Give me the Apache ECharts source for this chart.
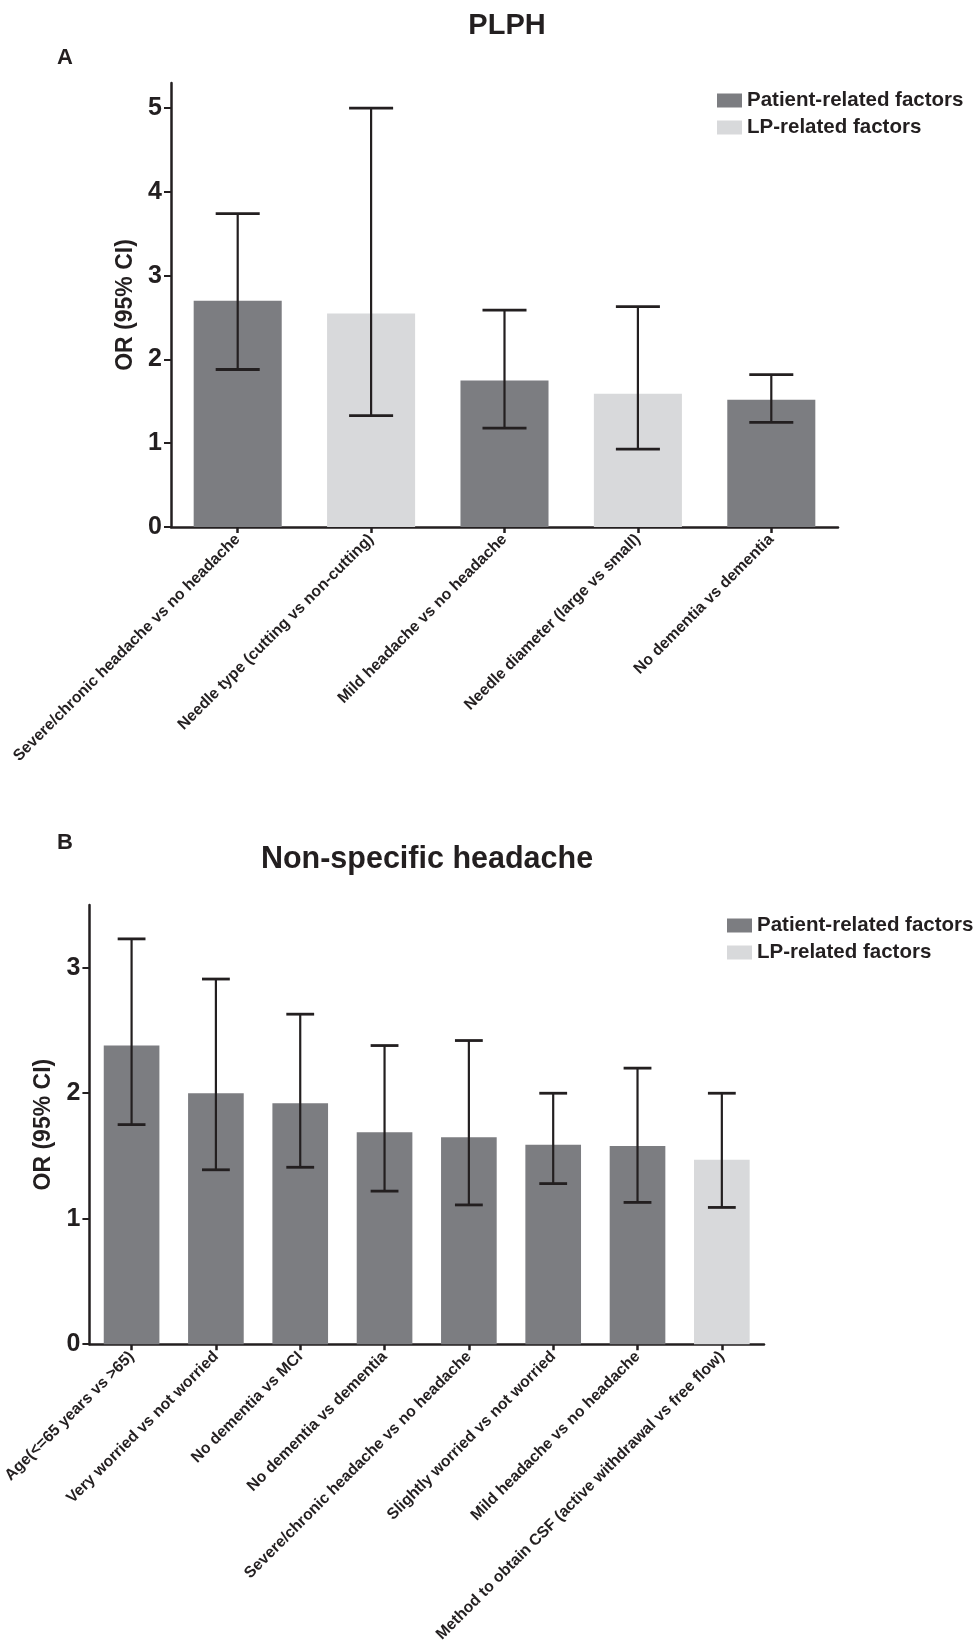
<!DOCTYPE html>
<html>
<head>
<meta charset="utf-8">
<script src="https://cdn.jsdelivr.net/npm/echarts@6/dist/echarts.min.js"></script>
<style>
html,body{margin:0;padding:0;background:#fff;}
#chart{width:973px;height:1645px;}
</style>
</head>
<body>
<div id="chart"></div>
<script>
// ---------- Data ----------
var seriesNames = ['Patient-related factors', 'LP-related factors'];

var topCategories = [
  'Severe/chronic headache vs no headache',
  'Needle type (cutting vs non-cutting)',
  'Mild headache vs no headache',
  'Needle diameter (large vs small)',
  'No dementia vs dementia'
];
var topType = ['P', 'L', 'P', 'L', 'P'];
var topOR   = [2.70, 2.55, 1.75, 1.59, 1.52];
var topLow  = [1.88, 1.33, 1.18, 0.93, 1.25];
var topHigh = [3.74, 5.00, 2.59, 2.63, 1.82];
var topTicks = [0, 1, 2, 3, 4, 5];

var botCategories = [
  'Age(<=65 years vs >65)',
  'Very worried vs not worried',
  'No dementia vs MCI',
  'No dementia vs dementia',
  'Severe/chronic headache vs no headache',
  'Slightly worried vs not worried',
  'Mild headache vs no headache',
  'Method to obtain CSF (active withdrawal vs free flow)'
];
var botType = ['P', 'P', 'P', 'P', 'P', 'P', 'P', 'L'];
var botOR   = [2.38, 2.00, 1.92, 1.69, 1.65, 1.59, 1.58, 1.47];
var botLow  = [1.75, 1.39, 1.41, 1.22, 1.11, 1.28, 1.13, 1.09];
var botHigh = [3.23, 2.91, 2.63, 2.38, 2.42, 2.00, 2.20, 2.00];
var botTicks = [0, 1, 2, 3];

// ---------- Style ----------
var DARK = '#7c7d81';
var LIGHT = '#d8d9db';
var INK = '#231f20';
var FONT = "'Liberation Sans', Arial, Helvetica, sans-serif";
var BAR_FRAC = 0.66;

function pick(values, types, t) {
  return values.map(function (v, i) { return types[i] === t ? v : null; });
}
function errData(low, high) {
  return low.map(function (l, i) { return [i, l, high[i]]; });
}
function renderErr(params, api) {
  var x = api.value(0);
  var lo = api.coord([x, api.value(1)]);
  var hi = api.coord([x, api.value(2)]);
  var bw = api.size([1, 0])[0] * BAR_FRAC;
  var half = bw / 4;
  var style = { stroke: INK, lineWidth: 2.2 };
  return {
    type: 'group',
    children: [
      { type: 'line', shape: { x1: hi[0], y1: hi[1], x2: lo[0], y2: lo[1] }, style: style },
      { type: 'line', shape: { x1: hi[0] - half, y1: hi[1], x2: hi[0] + half, y2: hi[1] }, style: { stroke: INK, lineWidth: 2.8 } },
      { type: 'line', shape: { x1: lo[0] - half, y1: lo[1], x2: lo[0] + half, y2: lo[1] }, style: { stroke: INK, lineWidth: 2.8 } }
    ]
  };
}

function xAxisCfg(gi, cats) {
  return {
    type: 'category', gridIndex: gi, data: cats,
    axisLine: { lineStyle: { color: INK, width: 2.5 } },
    axisTick: { show: true, alignWithLabel: true, length: 6, lineStyle: { color: INK, width: 2.5 } },
    axisLabel: {
      rotate: 45, interval: 0, margin: 10,
      color: '#231f20', fontFamily: FONT, fontWeight: 'bold', fontSize: 15.8
    }
  };
}
function yAxisCfg(gi, max, ticks, gap) {
  return {
    type: 'value', gridIndex: gi, min: 0, max: max, interval: 1,
    name: 'OR (95% CI)', nameLocation: 'middle', nameGap: gap,
    nameTextStyle: { color: INK, fontFamily: FONT, fontWeight: 'bold', fontSize: 23 },
    splitLine: { show: false },
    axisLine: { show: true, lineStyle: { color: INK, width: 2.5 } },
    axisTick: { show: true, length: 7, customValues: ticks, lineStyle: { color: INK, width: 2 } },
    axisLabel: {
      customValues: ticks, margin: 9,
      color: INK, fontFamily: FONT, fontWeight: 'bold', fontSize: 25
    }
  };
}

var chart = echarts.init(document.getElementById('chart'), null, { renderer: 'canvas' });

var option = {
  backgroundColor: '#fff',
  animation: false,
  title: [
    { text: 'PLPH', left: 502, top: 6, textAlign: 'center',
      textStyle: { fontFamily: FONT, fontWeight: 'bold', fontSize: 29, color: INK } },
    { text: 'A', left: 52, top: 42,
      textStyle: { fontFamily: FONT, fontWeight: 'bold', fontSize: 22, color: INK } },
    { text: 'B', left: 52, top: 827,
      textStyle: { fontFamily: FONT, fontWeight: 'bold', fontSize: 22, color: INK } },
    { text: 'Non-specific headache', left: 422, top: 839, textAlign: 'center',
      textStyle: { fontFamily: FONT, fontWeight: 'bold', fontSize: 30.5, color: INK } }
  ],
  legend: [
    { data: seriesNames, orient: 'vertical', left: 712, top: 85, itemWidth: 25, itemHeight: 14, itemGap: 6,
      icon: 'rect', textStyle: { fontFamily: FONT, fontWeight: 'bold', fontSize: 20.5, color: INK } },
    { data: seriesNames, orient: 'vertical', left: 722, top: 910, itemWidth: 25, itemHeight: 14, itemGap: 6,
      icon: 'rect', textStyle: { fontFamily: FONT, fontWeight: 'bold', fontSize: 20.5, color: INK } }
  ],
  grid: [
    { left: 171, top: 83, width: 667, height: 444 },
    { left: 88, top: 905, width: 676, height: 453 }
  ],
  xAxis: [ xAxisCfg(0, topCategories), xAxisCfg(1, botCategories) ],
  yAxis: [ yAxisCfg(0, 5.3, topTicks, 33), yAxisCfg(1, 3.5, botTicks, 33) ],
  series: [
    { name: seriesNames[0], type: 'bar', xAxisIndex: 0, yAxisIndex: 0, stack: 'a',
      barWidth: (BAR_FRAC * 100) + '%', itemStyle: { color: DARK }, data: pick(topOR, topType, 'P') },
    { name: seriesNames[1], type: 'bar', xAxisIndex: 0, yAxisIndex: 0, stack: 'a',
      barWidth: (BAR_FRAC * 100) + '%', itemStyle: { color: LIGHT }, data: pick(topOR, topType, 'L') },
    { type: 'custom', xAxisIndex: 0, yAxisIndex: 0, renderItem: renderErr, data: errData(topLow, topHigh), z: 5 },
    { name: seriesNames[0], type: 'bar', xAxisIndex: 1, yAxisIndex: 1, stack: 'b',
      barWidth: (BAR_FRAC * 100) + '%', itemStyle: { color: DARK }, data: pick(botOR, botType, 'P') },
    { name: seriesNames[1], type: 'bar', xAxisIndex: 1, yAxisIndex: 1, stack: 'b',
      barWidth: (BAR_FRAC * 100) + '%', itemStyle: { color: LIGHT }, data: pick(botOR, botType, 'L') },
    { type: 'custom', xAxisIndex: 1, yAxisIndex: 1, renderItem: renderErr, data: errData(botLow, botHigh), z: 5 }
  ]
};
chart.setOption(option);
</script>
</body>
</html>
